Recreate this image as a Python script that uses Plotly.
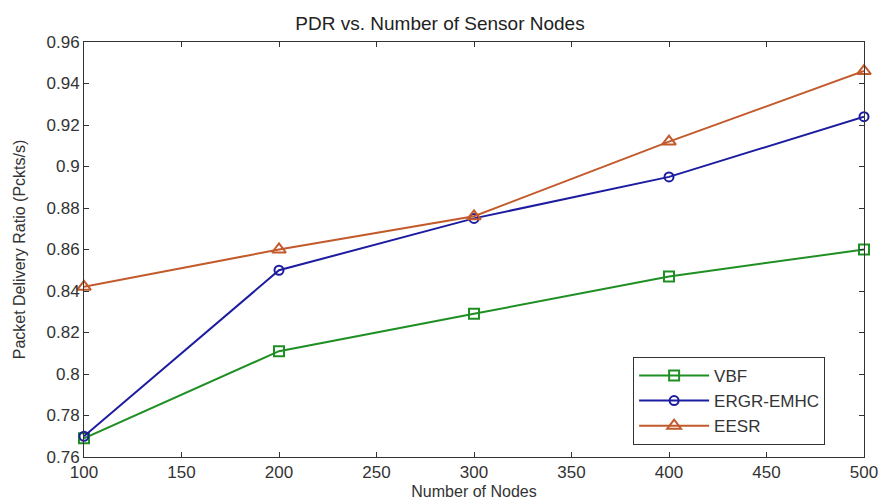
import plotly.graph_objects as go

nodes = [100, 200, 300, 400, 500]
vbf = [0.769, 0.811, 0.829, 0.847, 0.860]
ergr = [0.770, 0.850, 0.875, 0.895, 0.924]
eesr = [0.842, 0.860, 0.876, 0.912, 0.946]

x_ticks = [100, 150, 200, 250, 300, 350, 400, 450, 500]
y_ticks = [0.76, 0.78, 0.80, 0.82, 0.84, 0.86, 0.88, 0.90, 0.92, 0.94, 0.96]
y_tick_text = ["0.76", "0.78", "0.8", "0.82", "0.84", "0.86", "0.88", "0.9", "0.92", "0.94", "0.96"]

FONT = "Arial, Liberation Sans, sans-serif"

fig = go.Figure()
fig.add_trace(go.Scatter(x=nodes, y=vbf, name="VBF", mode="lines+markers",
                         line=dict(color="#1f8f24", width=2),
                         marker=dict(symbol="square-open", size=10, color="#1f8f24", line=dict(width=2)),
                         cliponaxis=False))
fig.add_trace(go.Scatter(x=nodes, y=ergr, name="ERGR-EMHC", mode="lines+markers",
                         line=dict(color="#1c1ca0", width=2),
                         marker=dict(symbol="circle-open", size=9, color="#1c1ca0", line=dict(width=2)),
                         cliponaxis=False))
fig.add_trace(go.Scatter(x=nodes, y=eesr, name="EESR", mode="lines+markers",
                         line=dict(color="#c25a2c", width=2),
                         marker=dict(symbol="triangle-up-open", size=12, color="#c25a2c", line=dict(width=2)),
                         cliponaxis=False))

axis_common = dict(showline=True, linecolor="#333333", linewidth=1, mirror="ticks",
                   ticks="inside", ticklen=5, tickcolor="#333333", showgrid=False,
                   zeroline=False, automargin=False,
                   tickfont=dict(family=FONT, size=17, color="#333333"))

fig.update_layout(
    width=880, height=500,
    margin=dict(l=84, r=16, t=42, b=43),
    paper_bgcolor="white", plot_bgcolor="white",
    title=dict(text="PDR vs. Number of Sensor Nodes", x=0.5, xanchor="center",
               y=1 - 23 / 500, yanchor="middle", automargin=False,
               font=dict(family=FONT, size=19, color="#222222")),
    xaxis=dict(range=[100, 500], tickvals=x_ticks, ticktext=[str(v) for v in x_ticks],
               title=dict(text="Number of Nodes", standoff=9,
                          font=dict(family=FONT, size=16, color="#333333")),
               **axis_common),
    yaxis=dict(range=[0.76, 0.96], tickvals=y_ticks, ticktext=y_tick_text,
               title=dict(text="Packet Delivery Ratio (Pckts/s)", standoff=16,
                          font=dict(family=FONT, size=16, color="#333333")),
               **axis_common),
    legend=dict(x=0.704, y=0.029, xanchor="left", yanchor="bottom",
                bgcolor="white", bordercolor="#333333", borderwidth=1,
                font=dict(family=FONT, size=17, color="#333333"),
                itemwidth=70, tracegroupgap=0),
    showlegend=True,
)

fig.write_html("out.html", config={"displayModeBar": False},
               post_script="document.body.style.margin='0';")
